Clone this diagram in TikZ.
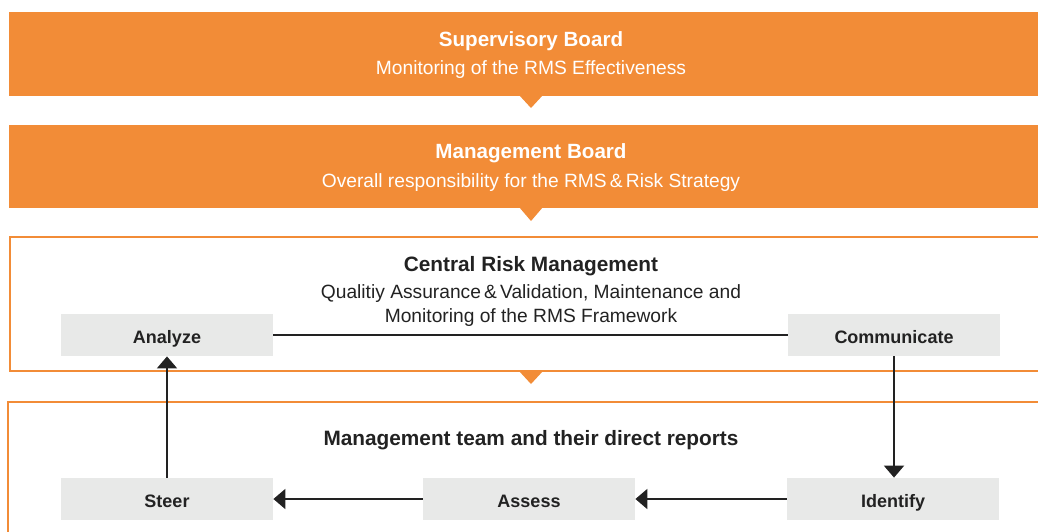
\documentclass[tikz,border=0pt]{standalone}
\usepackage{fontspec}
\setmainfont{Liberation Sans}
\usetikzlibrary{arrows.meta}
\definecolor{rmsorange}{HTML}{F28C37}
\definecolor{rmsgray}{HTML}{E8E9E8}
\definecolor{rmstext}{HTML}{222222}
\tikzset{
  banner/.style={fill=rmsorange, draw=none},
  frame/.style={draw=rmsorange, line width=1pt},
  notch/.style={fill=rmsorange, draw=none},
  headw/.style={text=white, font=\fontsize{10.3pt}{12pt}\selectfont\bfseries, anchor=base},
  subw/.style={text=white, font=\fontsize{9.6pt}{12pt}\selectfont, anchor=base},
  headd/.style={text=rmstext, font=\fontsize{10.4pt}{12pt}\selectfont\bfseries, anchor=base},
  subd/.style={text=rmstext, font=\fontsize{9.6pt}{12pt}\selectfont, anchor=base},
  stepbox/.style={fill=rmsgray, draw=none, minimum width=106pt, minimum height=21pt,
    inner sep=0pt, text height=8pt, text depth=0pt, text=rmstext,
    font=\fontsize{9pt}{11pt}\selectfont\bfseries},
  link/.style={draw=rmstext, line width=1pt},
  flow/.style={link, -{Triangle[width=10pt,length=6pt]}}
}
\begin{document}
\begin{tikzpicture}[x=0.5pt, y=-0.5pt]
\useasboundingbox (0,0) rectangle (1038,531);
\clip (0,0) rectangle (1038,531);

% Supervisory Board banner
\fill[banner] (9,12) rectangle (1060,96);
\fill[notch] (519,95) -- (543,95) -- (531,108) -- cycle;
\node[headw] (sbt) at (531,46) {Supervisory Board};
\node[subw] (sbs) at (531,74) {Monitoring of the RMS Effectiveness};

% Management Board banner
\fill[banner] (9,125) rectangle (1060,208);
\fill[notch] (519,207) -- (543,207) -- (531,221) -- cycle;
\node[headw] (mbt) at (531,158) {Management Board};
\node[subw] (mbs) at (531,187) {Overall responsibility for the RMS\,\&\,Risk Strategy};

% Central Risk Management frame
\draw[frame] (9.5,237) rectangle (1070,371);
\fill[notch] (519,371) -- (543,371) -- (531,384) -- cycle;
\node[headd] (crt) at (531,271) {Central Risk Management};
\node[subd] (crs1) at (531,298) {Qualitiy Assurance\,\&\,Validation, Maintenance and};
\node[subd] (crs2) at (531,322) {Monitoring of the RMS Framework};

% Management team frame
\draw[frame] (8,402) rectangle (1070,560);
\node[headd] (mtt) at (531,445) {Management team and their direct reports};

% Process steps
\node[stepbox] (analyze) at (167,335) {Analyze};
\node[stepbox] (communicate) at (894,335) {Communicate};
\node[stepbox] (identify) at (893,499) {Identify};
\node[stepbox] (assess) at (529,499) {Assess};
\node[stepbox] (steer) at (167,499) {Steer};

% Connectors
\draw[link] (analyze.east) -- (communicate.west);
\draw[flow] (communicate.south) -- (communicate.south |- identify.north);
\draw[flow] (identify.west) -- (assess.east);
\draw[flow] (assess.west) -- (steer.east);
\draw[flow] (steer.north) -- (analyze.south);
\end{tikzpicture}
\end{document}
